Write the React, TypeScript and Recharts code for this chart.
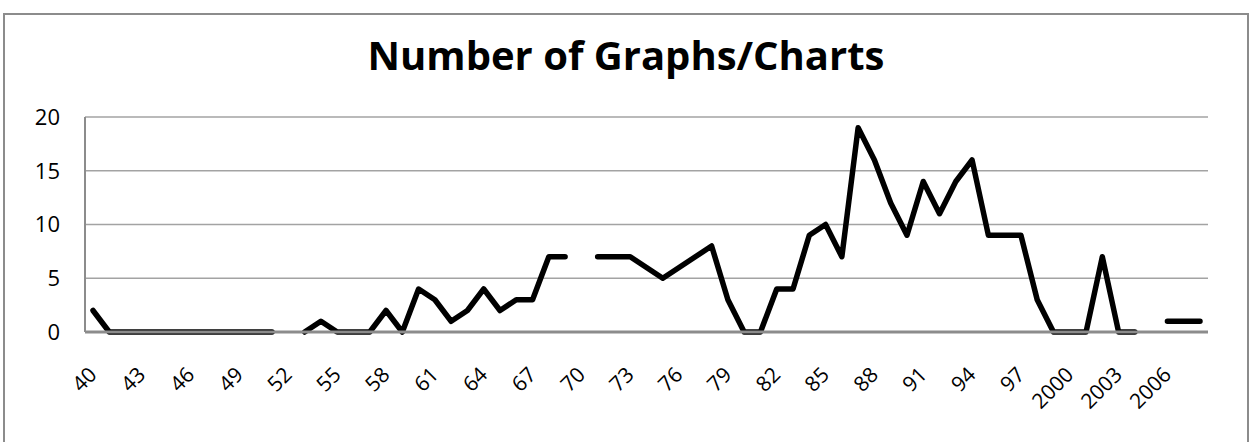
// App.tsx
import { LineChart, Line, XAxis, YAxis, CartesianGrid } from "recharts";

const YEARS = [
  "40","41","42","43","44","45","46","47","48","49",
  "50","51","52","53","54","55","56","57","58","59",
  "60","61","62","63","64","65","66","67","68","69",
  "70","71","72","73","74","75","76","77","78","79",
  "80","81","82","83","84","85","86","87","88","89",
  "90","91","92","93","94","95","96","97","98","99",
  "2000","2001","2002","2003","2004","2005","2006","2007","2008",
];

// null = no value that year (line breaks)
const COUNTS: (number | null)[] = [
  2, 0, 0, 0, 0, 0, 0, 0, 0, 0,
  0, 0, null, 0, 1, 0, 0, 0, 2, 0,
  4, 3, 1, 2, 4, 2, 3, 3, 7, 7,
  null, 7, 7, 7, 6, 5, 6, 7, 8, 3,
  0, 0, 4, 4, 9, 10, 7, 19, 16, 12,
  9, 14, 11, 14, 16, 9, 9, 9, 3, 0,
  0, 0, 7, 0, 0, null, 1, 1, 1,
];

const Y_TICKS = [0, 5, 10, 15, 20];

const FONT = "'Open Sans', 'Noto Sans', sans-serif";

const data = YEARS.map((year, i) => ({ year, count: COUNTS[i] }));

function XTick({ x, y, payload }: any) {
  const ax = x + 5;
  const ay = y + 44;
  return (
    <text
      x={ax}
      y={ay}
      transform={`rotate(-45, ${ax}, ${ay})`}
      textAnchor="end"
      fontSize={21}
      fontFamily={FONT}
      fill="#000"
    >
      {payload.value}
    </text>
  );
}

function YTick({ x, y, payload }: any) {
  return (
    <text x={x - 25} y={y} dy="0.36em" textAnchor="end" fontSize={22} fontFamily={FONT} fill="#000">
      {payload.value}
    </text>
  );
}

export default function App() {
  return (
    <div style={{ position: "absolute", left: 0, top: 0, width: 1254, height: 442, overflow: "hidden", background: "#fff" }}>
      <div
        style={{
          position: "absolute",
          left: 3,
          top: 13,
          width: 1242,
          height: 460,
          border: "2px solid #8c8c8c",
        }}
      />
      <div
        style={{
          position: "absolute",
          left: 0,
          top: 35,
          width: 1252,
          textAlign: "center",
          fontFamily: FONT,
          fontWeight: 700,
          fontSize: 40,
          lineHeight: "40px",
          color: "#000",
        }}
      >
        Number of Graphs/Charts
      </div>
      <div style={{ position: "absolute", left: 0, top: 0 }}>
        <LineChart width={1254} height={442} data={data} margin={{ top: 117, right: 46, bottom: 50, left: 25 }}>
          <CartesianGrid vertical={false} stroke="#a3a3a3" strokeWidth={1.5} />
          <XAxis
            dataKey="year"
            interval={2}
            padding={{ left: 8, right: 8 }}
            height={60}
            tickSize={0}
            tickMargin={0}
            tickLine={false}
            axisLine={{ stroke: "#8c8c8c", strokeWidth: 3 }}
            tick={<XTick />}
          />
          <XAxis
            xAxisId="top"
            dataKey="year"
            orientation="top"
            height={0}
            tick={false}
            tickLine={false}
            axisLine={{ stroke: "#000", strokeWidth: 1.5 }}
          />
          <YAxis
            domain={[0, 20]}
            ticks={Y_TICKS}
            width={60}
            tickSize={0}
            tickMargin={0}
            tickLine={false}
            axisLine={{ stroke: "#8c8c8c", strokeWidth: 2 }}
            tick={<YTick />}
          />
          <YAxis
            yAxisId="right"
            orientation="right"
            domain={[0, 20]}
            width={0}
            tick={false}
            tickLine={false}
            axisLine={{ stroke: "#000", strokeWidth: 1.5 }}
          />
          <Line
            type="linear"
            dataKey="count"
            stroke="#000"
            strokeWidth={5.5}
            strokeLinecap="round"
            strokeLinejoin="round"
            dot={false}
            activeDot={false}
            connectNulls={false}
            isAnimationActive={false}
          />
        </LineChart>
      </div>
    </div>
  );
}
